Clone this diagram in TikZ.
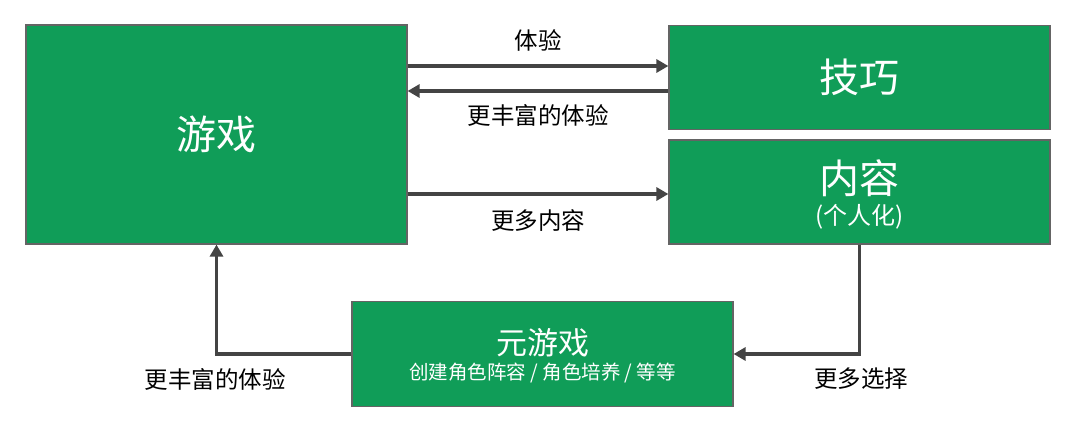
\documentclass[tikz,border=0pt]{standalone}
\usepackage{fontspec}
\setmainfont{Noto Sans CJK SC}
\usetikzlibrary{arrows.meta,calc}
\definecolor{boxgreen}{RGB}{16,157,88}
\definecolor{boxedge}{RGB}{100,100,100}
\definecolor{arrowgray}{RGB}{68,68,68}
\tikzset{
  gbox/.style={draw=boxedge, line width=1.2pt, fill=boxgreen, inner sep=0pt, minimum width=381pt},
  bigtxt/.style={text=white, font=\fontsize{40}{44}\selectfont, inner sep=0pt},
  midtxt/.style={text=white, font=\fontsize{31}{34}\selectfont, inner sep=0pt},
  subtxt/.style={text=white, font=\fontsize{19.5}{23}\selectfont, inner sep=0pt},
  lbl/.style={text=black, font=\fontsize{23.5}{26}\selectfont, inner sep=0pt},
  arr/.style={draw=arrowgray, line width=3.2pt, -{Triangle[length=12pt,width=13pt]}},
}
\begin{document}
\begin{tikzpicture}[x=1pt,y=-1pt]
\useasboundingbox (0,0) rectangle (1080,433);
% boxes
\node[gbox, minimum height=219pt] (youxi) at (216.5,134.5) {};
\node[gbox, minimum height=104pt] (jiqiao) at (859.5,77.5) {};
\node[gbox, minimum height=104pt] (neirong) at (859.5,192) {};
\node[gbox, minimum height=105pt] (meta) at (542.5,354) {};
% box texts
\node[bigtxt] (youxiT) at (youxi.center) {游戏};
\node[bigtxt] (jiqiaoT) at (jiqiao.center) {技巧};
\node[bigtxt] (neirongT) at ([yshift=14pt]neirong.center) {内容};
\node[subtxt, font=\fontsize{24}{26}\selectfont] (neirongS) at ([yshift=-25pt]neirong.center) {(个人化)};
\node[midtxt] (metaT) at ([yshift=11pt]meta.center) {元游戏};
\node[subtxt] (metaS) at ([yshift=-19pt]meta.center) {创建角色阵容 / 角色培养 / 等等};
% arrows
\draw[arr] ([yshift=11.5pt]youxi.east |- jiqiao.west) -- ([yshift=11.5pt]jiqiao.west);
\draw[arr] ([yshift=-13.5pt]jiqiao.west) -- ([yshift=-13.5pt]youxi.east |- jiqiao.west);
\draw[arr] ([yshift=-2pt]youxi.east |- neirong.west) -- ([yshift=-2pt]neirong.west);
\draw[arr] (meta.west) -| (youxi.south);
\draw[arr] (neirong.south) |- (meta.east);
% labels
\node[lbl] (l1) at (538,40) {体验};
\node[lbl] (l2) at (538,115) {更丰富的体验};
\node[lbl] (l3) at (538,221) {更多内容};
\node[lbl] (l4) at (215,379) {更丰富的体验};
\node[lbl] (l5) at (861,379) {更多选择};
\end{tikzpicture}
\end{document}
